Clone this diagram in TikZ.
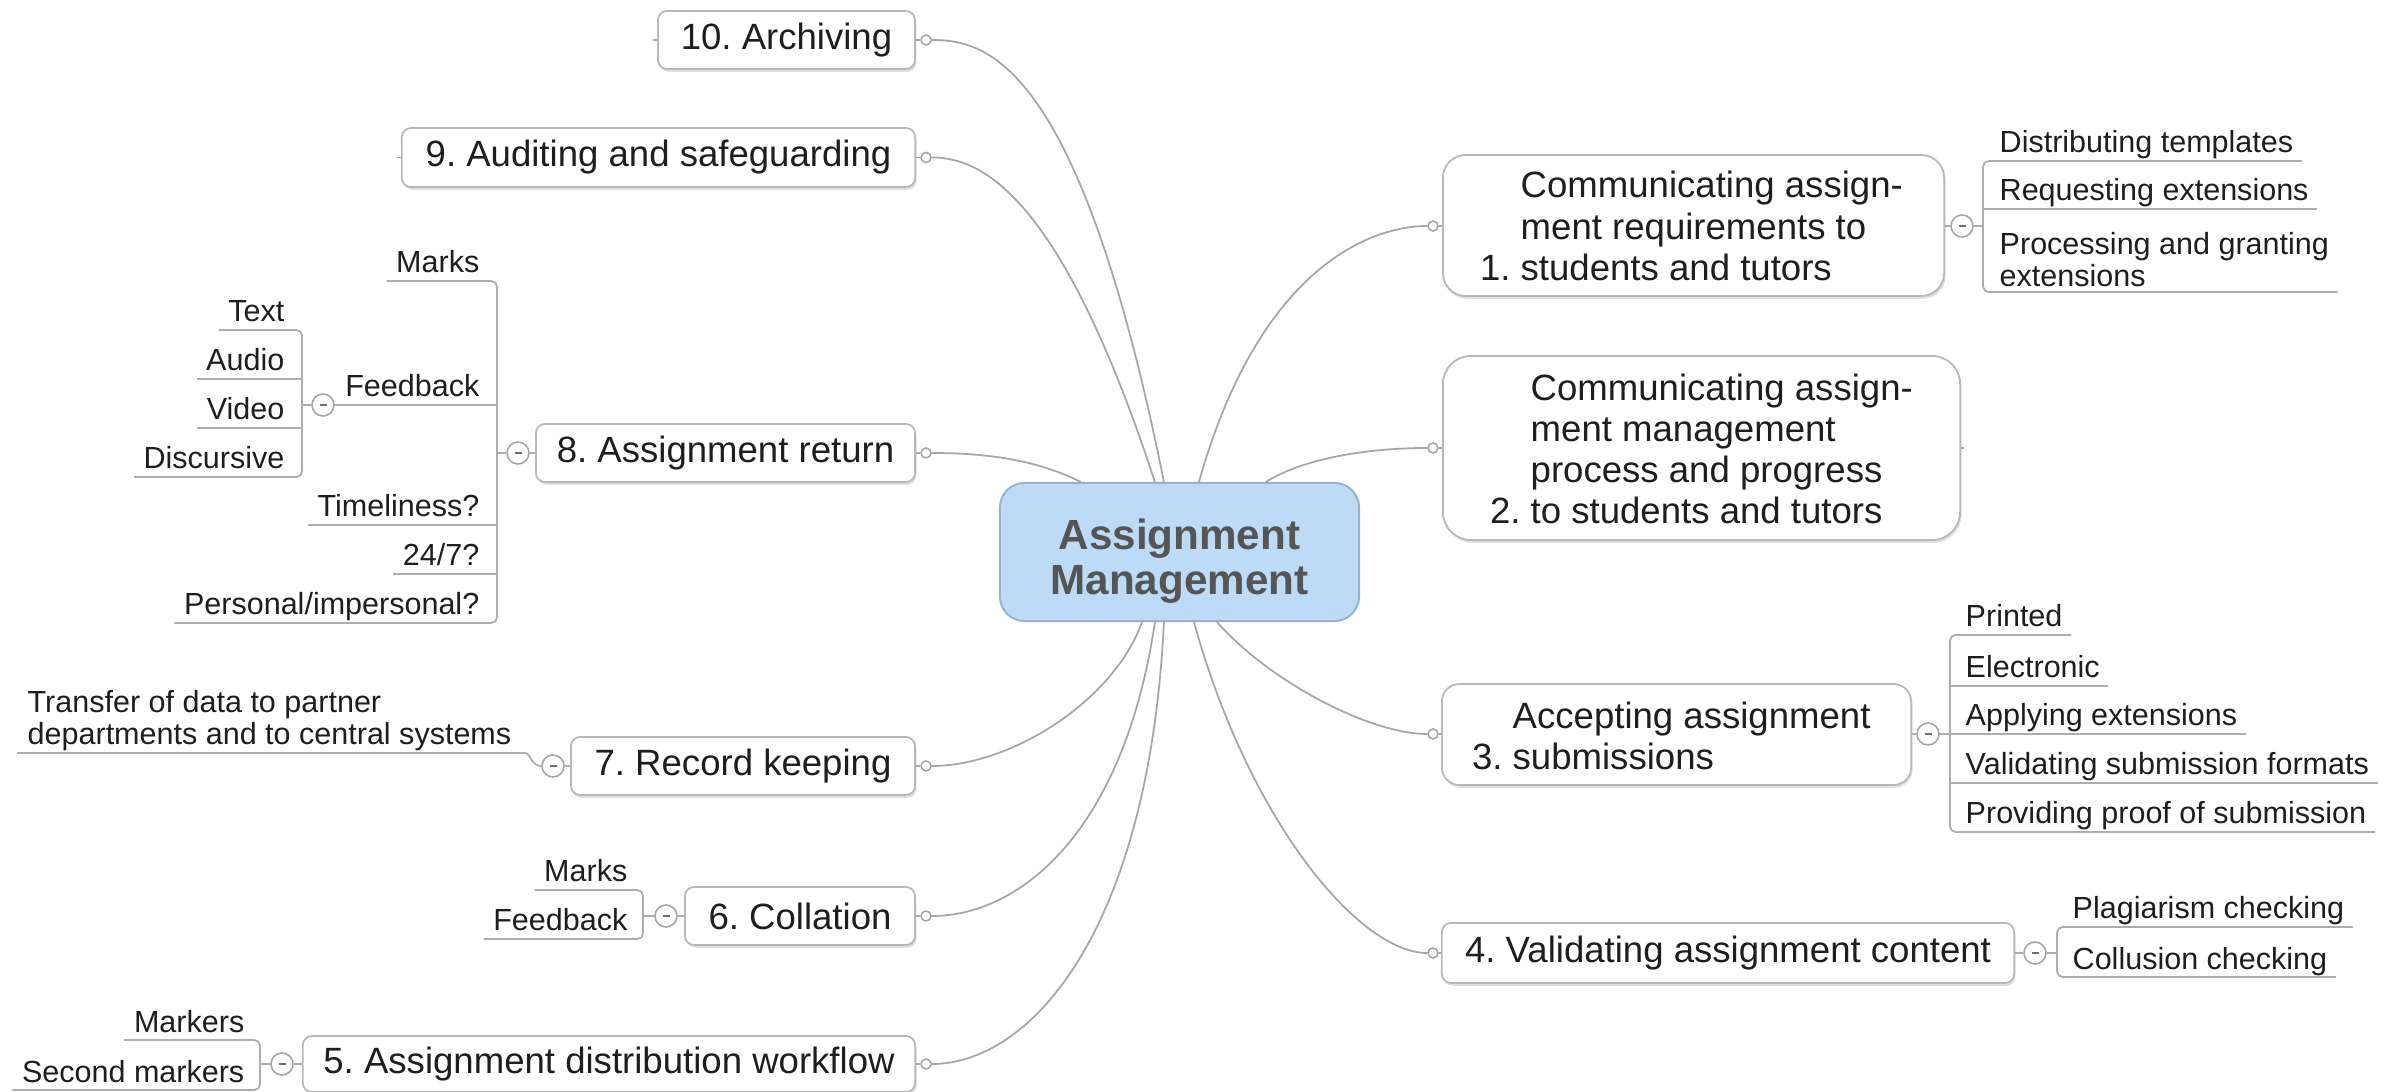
\documentclass[tikz,border=0pt]{standalone}
\usepackage{fontspec}
\setmainfont{Liberation Sans}
\usetikzlibrary{calc,shadows}
\frenchspacing
\definecolor{linegray}{HTML}{A6A6A6}
\definecolor{boxgray}{HTML}{B8B8B8}
\definecolor{ulgray}{HTML}{ADADAD}
\definecolor{textcol}{HTML}{1E1E1E}
\definecolor{cfill}{HTML}{BDDBF7}
\definecolor{cdraw}{HTML}{98B2CB}
\definecolor{ctext}{HTML}{555555}
\definecolor{minuscol}{HTML}{6E6E6E}
\newcommand{\mmfontmain}{\fontsize{10.4pt}{11.7pt}\selectfont}
\newcommand{\mmfontsub}{\fontsize{8.68pt}{9pt}\selectfont}
\newcommand{\mmfontcenter}{\fontsize{12pt}{12.8pt}\selectfont\bfseries}
\tikzset{
  centerbox/.style={draw=cdraw, fill=cfill, line width=0.55pt, rounded corners=7pt, inner sep=0pt, minimum width=3.59cm, minimum height=1.38cm},
  centertext/.style={inner sep=0pt, align=center, font=\mmfontcenter, text=ctext},
  mainbox/.style={draw=boxgray, fill=white, line width=0.5pt, rounded corners=2.6pt, inner sep=0pt, font=\mmfontmain, text=textcol, drop shadow={shadow xshift=0.4pt, shadow yshift=-0.8pt, opacity=0.12, fill=black}},
  maintext/.style={font=\mmfontmain, text=textcol, inner sep=0pt, align=left},
  subr/.style={font=\mmfontsub, text=textcol, inner sep=0pt, anchor=base west},
  subl/.style={font=\mmfontsub, text=textcol, inner sep=0pt, anchor=base east},
  conn/.style={draw=linegray, line width=0.5pt},
  ul/.style={draw=ulgray, line width=0.5pt, rounded corners=1.6pt},
  dot/.style={circle, draw=linegray, fill=white, line width=0.45pt, minimum size=0.1cm, inner sep=0pt},
  collapse/.style={circle, draw=linegray, fill=white, line width=0.45pt, minimum size=0.22cm, inner sep=0pt,
    path picture={\draw[minuscol, line width=0.7pt] ([xshift=-0.035cm]path picture bounding box.center) -- ([xshift=0.035cm]path picture bounding box.center);}},
}
\begin{document}
\begin{tikzpicture}[x=0.01cm,y=-0.01cm]
\useasboundingbox (0,0) rectangle (2394,1092);
\fill[white] (0,0) rectangle (2394,1092);

% centre
\node[centerbox] (C) at (1179.5,552) {};
\node[centertext, anchor=north] (Ct) at (1179.5,518) {Assignment\\Management};

% left main boxes
\node[mainbox, minimum width=2.57cm, minimum height=0.58cm] (b10) at (786.5,40) {10. Archiving};
\node[mainbox, minimum width=5.13cm, minimum height=0.59cm] (b9) at (658.5,157.5) {9. Auditing and safeguarding};
\node[mainbox, minimum width=3.79cm, minimum height=0.58cm] (b8) at (725.5,453) {8. Assignment return};
\node[mainbox, minimum width=3.44cm, minimum height=0.58cm] (b7) at (743,766) {7. Record keeping};
\node[mainbox, minimum width=2.30cm, minimum height=0.58cm] (b6) at (800,916) {6. Collation};
\node[mainbox, minimum width=6.12cm, minimum height=0.56cm] (b5) at (609,1064) {5. Assignment distribution workflow};

% right main boxes
\node[mainbox, rounded corners=6.5pt, minimum width=5.01cm, minimum height=1.41cm] (b1) at (1693.5,225.5) {};
\node[maintext, anchor=west] (t1) at (1520,226) {Communicating assign-\\ment requirements to\\\llap{1. }students and tutors};
\node[mainbox, rounded corners=8pt, minimum width=5.17cm, minimum height=1.84cm] (b2) at (1701.5,448) {};
\node[maintext, anchor=west] (t2) at (1530,449) {Communicating assign-\\ment management\\process and progress\\\llap{2. }to students and tutors};
\node[mainbox, rounded corners=5pt, minimum width=4.69cm, minimum height=1.01cm] (b3) at (1676.5,734.5) {};
\node[maintext, anchor=west] (t3) at (1512,736) {Accepting assignment\\\llap{3. }submissions};
\node[mainbox, minimum width=5.72cm, minimum height=0.60cm] (b4) at (1728,953) {4. Validating assignment content};

% connector dots
\node[dot] (d10) at (926,40) {};
\node[dot] (d9) at (926,157.5) {};
\node[dot] (d8) at (926,453) {};
\node[dot] (d7) at (926,766) {};
\node[dot] (d6) at (926,916) {};
\node[dot] (d5) at (926,1064) {};
\node[dot] (d1) at (1433,226) {};
\node[dot] (d2) at (1433,448) {};
\node[dot] (d3) at (1433,734) {};
\node[dot] (d4) at (1433,953) {};
\foreach \b/\d in {b10/d10,b9/d9,b8/d8,b7/d7,b6/d6,b5/d5}{\draw[conn] (\b.east) -- (\d.west);}
\foreach \b/\d in {b1/d1,b2/d2,b3/d3,b4/d4}{\draw[conn] (\b.west |- \d) -- (\d.east);}
\draw[conn] (b10.west) -- +(-4,0);
\draw[conn] (b9.west) -- +(-4,0);
\draw[conn] (b2.east) -- +(3,0);

% main connectors
\draw[conn] (d10.east) .. controls +(54,0) and +(-85,-423) .. ($(C.north west)+(165,0)$);
\draw[conn] (d9.east) .. controls +(47,0) and +(-96,-293) .. ($(C.north west)+(156,0)$);
\draw[conn] (d8.east) .. controls +(59,0) and +(-42,-21) .. ($(C.north west)+(82,0)$);
\draw[conn] (d7.east) .. controls +(79,0) and +(-28,79) .. ($(C.south west)+(143,0)$);
\draw[conn] (d6.east) .. controls +(89,0) and +(-31,209) .. ($(C.south west)+(156,0)$);
\draw[conn] (d5.east) .. controls +(99,0) and +(-15,309) .. ($(C.south west)+(165,0)$);
\draw[conn] (d1.west) .. controls +(-58,0) and +(60,-213) .. ($(C.north west)+(200,0)$);
\draw[conn] (d2.west) .. controls +(-68,0) and +(33,-21) .. ($(C.north west)+(267,0)$);
\draw[conn] (d3.west) .. controls +(-58,0) and +(52,59) .. ($(C.south west)+(218,0)$);
\draw[conn] (d4.west) .. controls +(-68,0) and +(55,199) .. ($(C.south west)+(195,0)$);

% group 1
\node[collapse] (k1) at (1962,226) {};
\draw[ul] (b1.east |- k1) -- (k1.west);
\draw[ul] (k1.east) -- (1983,226);
\node[subr] (s11) at (1999,153) {Distributing templates};
\node[subr] (s12) at (1999,201) {Requesting extensions};
\node[subr, align=left, anchor=north west] (s13) at (1999,232) {Processing and granting\\extensions};
\coordinate (u13) at (1983,292);
\draw[ul] ($(s11.base east)+(8,8)$) -- (1983,161) -- (u13) -- ($(s13.east |- u13)+(8,0)$);
\draw[ul] (1983,209) -- ($(s12.base east)+(8,8)$);

% group 3
\node[collapse] (k3) at (1928,734) {};
\draw[ul] (b3.east |- k3) -- (k3.west);
\node[subr] (s31) at (1965,627) {Printed};
\node[subr] (s32) at (1965,678) {Electronic};
\node[subr] (s33) at (1965,726) {Applying extensions};
\node[subr] (s34) at (1965,775) {Validating submission formats};
\node[subr] (s35) at (1965,824) {Providing proof of submission};
\draw[ul] ($(s31.base east)+(8,8)$) -- (1950,635) -- (1950,832) -- ($(s35.base east)+(8,8)$);
\draw[ul] (1950,686) -- ($(s32.base east)+(8,8)$);
\draw[ul] (k3.east) -- ($(s33.base east)+(8,8)$);
\draw[ul] (1950,783) -- ($(s34.base east)+(8,8)$);

% group 4
\node[collapse] (k4) at (2035,953) {};
\draw[ul] (b4.east |- k4) -- (k4.west);
\draw[ul] (k4.east) -- (2057,953);
\node[subr] (s41) at (2072,919) {Plagiarism checking};
\node[subr] (s42) at (2072,969) {Collusion checking};
\draw[ul] ($(s41.base east)+(8,8)$) -- (2057,927) -- (2057,977) -- ($(s42.base east)+(8,8)$);

% group 8
\node[collapse] (k8) at (518,453) {};
\draw[ul] (b8.west) -- (k8.east);
\draw[ul] (k8.west) -- (497,453);
\node[subl] (s81) at (480,273) {Marks};
\node[subl] (s82) at (480,397) {Feedback};
\node[subl] (s83) at (480,517) {Timeliness?};
\node[subl] (s84) at (480,566) {24/7?};
\node[subl] (s85) at (480,615) {Personal/impersonal?};
\draw[ul] ($(s81.base west)+(-9,8)$) -- (497,281) -- (497,623) -- ($(s85.base west)+(-9,8)$);
\node[collapse] (kf) at (323,405) {};
\draw[ul] (kf.east) -- (497,405);
\draw[ul] (497,525) -- ($(s83.base west)+(-9,8)$);
\draw[ul] (497,574) -- ($(s84.base west)+(-9,8)$);
\draw[ul] (kf.west) -- (302,405);
\node[subl] (sf1) at (285,322) {Text};
\node[subl] (sf2) at (285,371) {Audio};
\node[subl] (sf3) at (285,420) {Video};
\node[subl] (sf4) at (285,469) {Discursive};
\draw[ul] ($(sf1.base west)+(-9,8)$) -- (302,330) -- (302,477) -- ($(sf4.base west)+(-9,8)$);
\draw[ul] (302,379) -- ($(sf2.base west)+(-9,8)$);
\draw[ul] (302,428) -- ($(sf3.base west)+(-9,8)$);

% group 7
\node[collapse] (k7) at (553,766) {};
\draw[ul] (b7.west) -- (k7.east);
\node[font=\mmfontsub, text=textcol, inner sep=0pt, align=left, anchor=north west] (s71) at (27,690) {Transfer of data to partner\\departments and to central systems};
\coordinate (u71) at (17,753);
\draw[ul] (u71) -- ($(s71.east |- u71)+(8,0)$) to[out=0,in=180] (k7.west);

% group 6
\node[collapse] (k6) at (666,916) {};
\draw[ul] (b6.west) -- (k6.east);
\draw[ul] (k6.west) -- (643,916);
\node[subl] (s61) at (628,882) {Marks};
\node[subl] (s62) at (628,931) {Feedback};
\draw[ul] ($(s61.base west)+(-9,8)$) -- (643,890) -- (643,939) -- ($(s62.base west)+(-9,8)$);

% group 5
\node[collapse] (k5) at (282,1064) {};
\draw[ul] (b5.west) -- (k5.east);
\draw[ul] (k5.west) -- (260,1064);
\node[subl] (s51) at (245,1032) {Markers};
\node[subl] (s52) at (245,1082) {Second markers};
\draw[ul] ($(s51.base west)+(-9,8)$) -- (260,1040) -- (260,1090) -- ($(s52.base west)+(-9,8)$);
\end{tikzpicture}
\end{document}
